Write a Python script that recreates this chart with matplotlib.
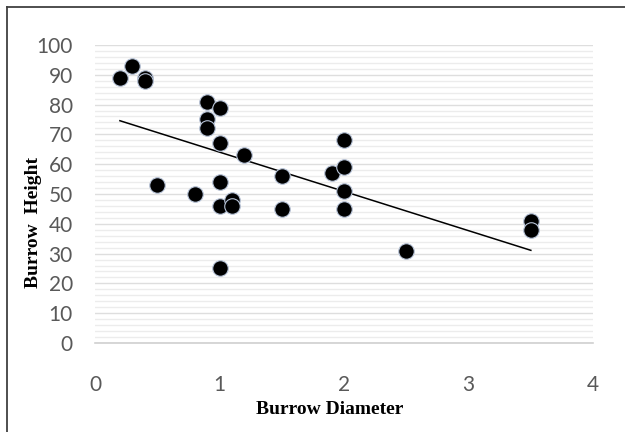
import numpy as np
import matplotlib.pyplot as plt
from matplotlib.lines import Line2D

# Datos
diametro = [0.2, 0.3, 0.4, 0.4, 0.5, 0.8, 0.9, 0.9, 0.9, 1.0, 1.0, 1.0, 1.0, 1.0,
            1.1, 1.1, 1.2, 1.5, 1.5, 1.9, 2.0, 2.0, 2.0, 2.0, 2.5, 3.5, 3.5]
altura = [89, 93, 89, 88, 53, 50, 81, 75, 72, 79, 67, 54, 46, 25,
          48, 46, 63, 56, 45, 57, 68, 59, 51, 45, 31, 41, 38]

x_ticks = [0, 1, 2, 3, 4]
y_ticks = list(range(0, 101, 10))

# Línea de tendencia lineal
pend, orden = np.polyfit(diametro, altura, 1)
x_tend = np.array([min(diametro), max(diametro)])
y_tend = pend * x_tend + orden

fig = plt.figure(figsize=(6.25, 4.32), dpi=100)
ax = fig.add_axes([0.152, 0.206, 0.797, 0.690])

ax.set_xlim(0, 4)
ax.set_ylim(0, 100)
ax.set_yticks(np.arange(0, 101, 2), minor=True)
ax.grid(True, which="minor", axis="y", color="#ececec", linewidth=1.0)
ax.grid(True, which="major", axis="y", color="#dedede", linewidth=1.0)
ax.set_axisbelow(True)

ax.plot(x_tend, y_tend, color="black", linewidth=1.1, zorder=2)
ax.scatter(diametro, altura, s=125, color="black", edgecolors="#b8c4d8",
           linewidths=0.8, zorder=3)

ax.set_xticks(x_ticks)
ax.set_yticks(y_ticks)
ax.tick_params(axis="both", which="both", length=0)
ax.tick_params(axis="both", labelsize=15, labelcolor="#595959")
ax.tick_params(axis="x", pad=23)
ax.tick_params(axis="y", pad=16)
for lab in ax.get_xticklabels() + ax.get_yticklabels():
    lab.set_family("Lato")

for s in ["left", "right", "top"]:
    ax.spines[s].set_visible(False)
ax.spines["bottom"].set_color("#d0d0d0")
ax.spines["bottom"].set_linewidth(1.2)

fig.text(330 / 625, 1 - 410 / 432, "Burrow Diameter", ha="center", va="center",
         family="Liberation Serif", fontweight="bold", fontsize=14)
fig.text(34 / 625, 1 - 222 / 432, "Burrow  Height", ha="center", va="center",
         rotation=90, family="Liberation Serif", fontweight="bold", fontsize=14)

# Borde exterior
fig.add_artist(Line2D([7 / 625, 7 / 625], [0, 1 - 7 / 432], color="#404040", linewidth=1.3))
fig.add_artist(Line2D([7 / 625, 1], [1 - 7 / 432, 1 - 7 / 432], color="#404040", linewidth=1.3))

fig.savefig("out.png", dpi=100)
